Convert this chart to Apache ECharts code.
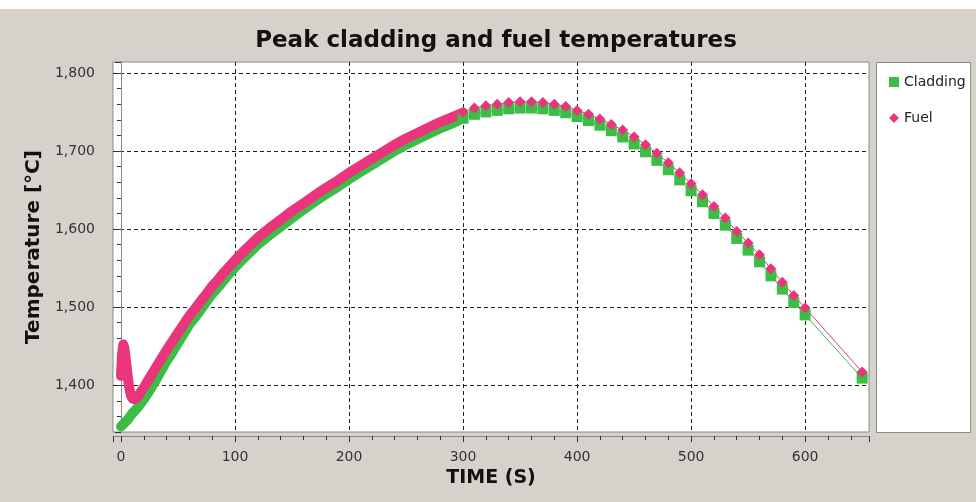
<!DOCTYPE html>
<html>
<head>
<meta charset="utf-8">
<script src="https://cdn.jsdelivr.net/npm/echarts@6/dist/echarts.min.js"></script>
<style>
  html, body { margin: 0; padding: 0; background: #d6d2cb; }
  #chart { width: 976px; height: 502px; }
</style>
</head>
<body>
<div id="chart"></div>
<script>
// dense part of the run (0 - 300 s)
const timeDense = [0, 1, 2, 3, 4, 5, 6, 7, 8, 9, 10, 12, 15, 20,
  25, 30, 35, 40, 45, 50, 55, 60, 65, 70, 75, 80, 85, 90, 95, 100,
  110, 120, 130, 140, 150, 160, 170, 180, 190, 200, 210, 220, 230, 240, 250, 260, 270, 280, 290, 300];
const fuelDense = [1412, 1440, 1452, 1447, 1436, 1423, 1410, 1399, 1391, 1386, 1383, 1382, 1386, 1397,
  1409, 1421, 1433, 1445, 1456, 1467, 1478, 1489, 1498, 1508, 1517, 1527, 1535, 1544, 1552, 1560,
  1575, 1589, 1601, 1612, 1623, 1633, 1643, 1653, 1662, 1672, 1681, 1690, 1699, 1708, 1716, 1723, 1730, 1737, 1743, 1749];
const claddingDense = [1347, 1349, 1350, 1352, 1353, 1355, 1356, 1358, 1360, 1362, 1364, 1367, 1372, 1382,
  1393, 1405, 1418, 1431, 1442, 1454, 1466, 1478, 1487, 1497, 1507, 1517, 1525, 1534, 1543, 1551,
  1566, 1580, 1592, 1603, 1614, 1625, 1635, 1645, 1654, 1664, 1673, 1682, 1691, 1700, 1708, 1715, 1722, 1729, 1735, 1742];

// sparse part (every 10 s, then 650 s)
const timeSparse = [300, 310, 320, 330, 340, 350, 360, 370, 380, 390, 400, 410, 420, 430, 440, 450,
  460, 470, 480, 490, 500, 510, 520, 530, 540, 550, 560, 570, 580, 590, 600, 650];
const fuelSparse = [1750, 1755, 1758, 1760, 1762, 1763, 1763, 1762, 1760, 1757, 1752, 1747, 1741, 1734, 1727, 1718,
  1708, 1697, 1685, 1672, 1658, 1644, 1629, 1614, 1597, 1582, 1567, 1549, 1532, 1515, 1499, 1417];
const claddingSparse = [1742, 1747, 1750, 1752, 1754, 1755, 1755, 1754, 1752, 1749, 1744, 1739, 1733, 1726, 1718, 1709,
  1699, 1688, 1676, 1663, 1649, 1635, 1620, 1605, 1588, 1573, 1558, 1540, 1523, 1506, 1490, 1409];

const green = '#3cbd46';
const pink = '#ea347b';
const font = 'DejaVu Sans';

function pairs(xs, ys) {
  return xs.map((x, i) => [x, ys[i]]);
}

const chart = echarts.init(document.getElementById('chart'));

const option = {
  backgroundColor: '#d6d2cb',
  animation: false,
  textStyle: { fontFamily: font },
  title: {
    text: 'Peak cladding and fuel temperatures',
    left: 491,
    textAlign: 'center',
    top: 25,
    textStyle: { fontFamily: font, fontSize: 23, fontWeight: 'bold', color: '#111' }
  },
  graphic: [
    { type: 'rect', z: -10, shape: { x: 0, y: 0, width: 976, height: 9 }, style: { fill: '#ffffff' } },
    { type: 'rect', z: -10, shape: { x: 876.5, y: 62.5, width: 94, height: 370 },
      style: { fill: '#ffffff', stroke: '#8a8a8a', lineWidth: 1 } }
  ],
  legend: {
    orient: 'vertical',
    left: 884,
    top: 69,
    itemWidth: 10,
    itemHeight: 10,
    itemGap: 20,
    textStyle: { fontFamily: font, fontSize: 14, color: '#222', lineHeight: 16 },
    data: [
      { name: 'Cladding', icon: 'rect' },
      { name: 'Fuel', icon: 'diamond' }
    ]
  },
  grid: {
    left: 113,
    right: 107,
    top: 62,
    bottom: 70,
    show: true,
    backgroundColor: '#ffffff',
    borderColor: '#8a8a8a',
    borderWidth: 1
  },
  xAxis: {
    type: 'value',
    min: -7,
    max: 656,
    offset: 4,
    name: 'TIME (S)',
    nameLocation: 'middle',
    nameGap: 30,
    nameTextStyle: { fontFamily: font, fontSize: 19, fontWeight: 'bold', color: '#111' },
    axisLine: { show: true, lineStyle: { color: '#8a8a8a', width: 1 } },
    axisTick: { show: true, length: 6, lineStyle: { color: '#333' } },
    minorTick: { show: true, splitNumber: 5, length: 4, lineStyle: { color: '#333' } },
    axisLabel: { showMinLabel: false, showMaxLabel: false, margin: 14,
      fontFamily: font, fontSize: 14, color: '#333' },
    splitLine: { show: true, showMinLine: false, showMaxLine: false,
      lineStyle: { color: '#222', type: [4, 3], width: 1 } }
  },
  yAxis: {
    type: 'value',
    min: 1340,
    max: 1814,
    offset: 5,
    name: 'Temperature [°C]',
    nameLocation: 'middle',
    nameGap: 61,
    nameTextStyle: { fontFamily: font, fontSize: 20, fontWeight: 'bold', color: '#111' },
    axisLine: { show: true, lineStyle: { color: '#8a8a8a', width: 1 } },
    axisTick: { show: true, length: 6, lineStyle: { color: '#333' } },
    minorTick: { show: true, splitNumber: 5, length: 4, lineStyle: { color: '#333' } },
    axisLabel: { showMinLabel: false, showMaxLabel: false, margin: 13,
      fontFamily: font, fontSize: 14, color: '#333' },
    splitLine: { show: true, showMinLine: false, showMaxLine: false,
      lineStyle: { color: '#222', type: [4, 3], width: 1 } }
  },
  series: [
    {
      name: 'Cladding',
      type: 'line',
      symbol: 'none',
      itemStyle: { color: green },
      lineStyle: { color: green, width: 10, join: 'round', cap: 'round' },
      data: pairs(timeDense, claddingDense)
    },
    {
      name: 'Cladding',
      type: 'line',
      symbol: 'rect',
      symbolSize: 11,
      itemStyle: { color: green },
      lineStyle: { color: green, width: 1 },
      data: pairs(timeSparse, claddingSparse)
    },
    {
      name: 'Fuel',
      type: 'line',
      symbol: 'none',
      itemStyle: { color: pink },
      lineStyle: { color: pink, width: 10, join: 'round', cap: 'round' },
      data: pairs(timeDense, fuelDense)
    },
    {
      name: 'Fuel',
      type: 'line',
      symbol: 'diamond',
      symbolSize: [11, 11],
      itemStyle: { color: pink },
      lineStyle: { color: pink, width: 1 },
      data: pairs(timeSparse, fuelSparse)
    }
  ]
};

chart.setOption(option);
</script>
</body>
</html>
